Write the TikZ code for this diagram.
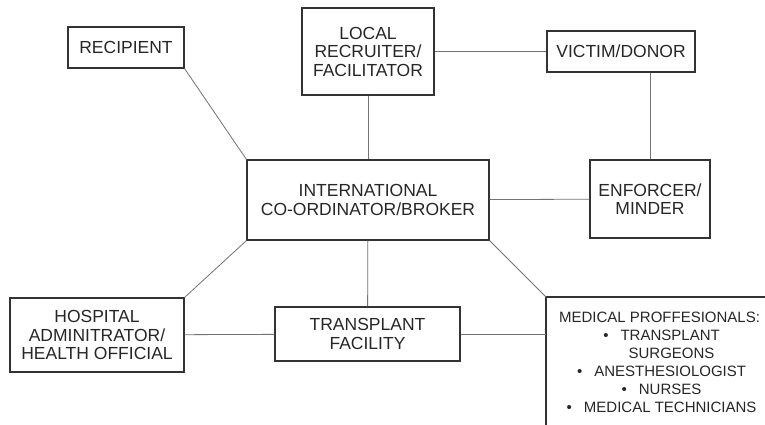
\documentclass[tikz,border=0pt]{standalone}
\usepackage{fontspec}
\setmainfont{Liberation Sans}

\begin{document}
\begin{tikzpicture}[x=1pt,y=-1pt,
       box/.style={rectangle,draw=black!80,line width=1.1pt,align=center,
         text=black!85,font=\fontsize{17.5}{18.5}\selectfont,inner sep=2pt},
       border/.style={draw=black!80,line width=1.1pt},
       link/.style={draw=black!55,line width=0.8pt}]

      \useasboundingbox (0,0) rectangle (765,424);

      \node[box,minimum width=116,minimum height=41] at (126,47.5) (recip) {RECIPIENT};
      \node[box,minimum width=132,minimum height=87] at (368,51.5) (local) {LOCAL\\RECRUITER/\\FACILITATOR};
      \node[box,minimum width=148,minimum height=41] at (621,51.5) (victim) {VICTIM/DONOR};
      \node[box,minimum width=120,minimum height=78] at (650,199) (enforcer) {ENFORCER/\\MINDER};
      \node[box,minimum width=242,minimum height=80] at (368,200) (broker) {INTERNATIONAL\\CO-ORDINATOR/BROKER};
      \node[box,minimum width=174,minimum height=74] at (97,335) (hospital) {HOSPITAL\\ADMINITRATOR/\\HEALTH OFFICIAL};
      \node[box,minimum width=185,minimum height=54] at (367.5,334) (facility) {TRANSPLANT\\FACILITY};
      % box runs off the page on the right and bottom
      \node[box,draw=none,minimum width=222,minimum height=130,anchor=north west,
            font=\fontsize{15}{18}\selectfont] at (546,297) (medical)
            {\hspace{4pt}MEDICAL PROFFESIONALS:\\
             \hspace{8pt}\textbullet\hspace{12pt}TRANSPLANT\\
             \hspace{28pt}SURGEONS\\
             \hspace{8pt}\textbullet\hspace{12pt}ANESTHESIOLOGIST\\
             \hspace{8pt}\textbullet\hspace{12pt}NURSES\\
             \hspace{8pt}\textbullet\hspace{12pt}MEDICAL TECHNICIANS};
      \draw[border] (medical.north east) -- (medical.north west) -- (medical.south west);

      \path[link]
      (recip.south east) edge (broker.north west)
      (local) edge (broker)
      (local) edge (victim)
      (enforcer.north) edge (enforcer.north |- victim.south)
      (broker) edge (enforcer)
      ;
      \path[link]
      (broker.south west) edge (hospital.north east)
      (broker) edge (facility)
      (broker.south east) edge (medical.north west)
      (hospital) edge (facility)
      (facility.east) edge (medical.west |- facility.east)
      ;

    \end{tikzpicture}
\end{document}
